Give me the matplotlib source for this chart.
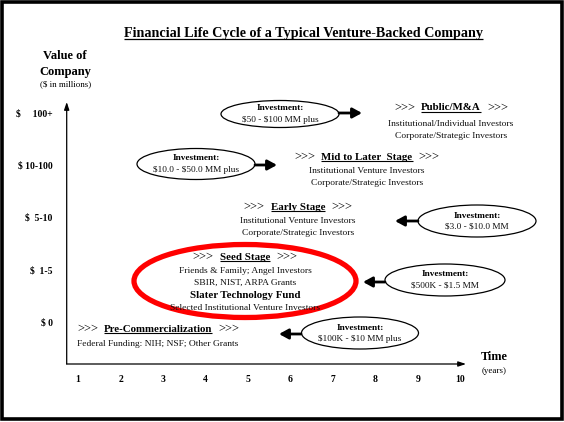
import matplotlib
matplotlib.use("Agg")
import matplotlib.pyplot as plt
from matplotlib.patches import Ellipse, Rectangle

plt.rcParams['font.family'] = ['Liberation Serif', 'DejaVu Serif']

# ---------------- data ----------------
title = "Financial Life Cycle of a Typical Venture-Backed Company"
y_axis_title = ["Value of", "Company"]
y_axis_unit = "($ in millions)"
x_axis_title = "Time"
x_axis_unit = "(years)"
years = [1, 2, 3, 4, 5, 6, 7, 8, 9, 10]
value_levels = [0, 1, 2, 3, 4]
value_labels = ["$ 0", "$  1-5", "$  5-10", "$ 10-100", "$     100+"]
stage_names = ["Pre-Commercialization", "Seed Stage", "Early Stage",
               "Mid to Later  Stage", "Public/M&A"]
stage_investors = [
    ["Federal Funding: NIH; NSF; Other Grants"],
    ["Friends & Family; Angel Investors", "SBIR, NIST, ARPA Grants",
     "Slater Technology Fund", "Selected Institutional Venture Investors"],
    ["Institutional Venture Investors", "Corporate/Strategic Investors"],
    ["Institutional Venture Investors", "Corporate/Strategic Investors"],
    ["Institutional/Individual Investors", "Corporate/Strategic Investors"],
]
highlight_investor = "Slater Technology Fund"
highlight_stage = "Seed Stage"
investment_title = "Investment:"
investment_ranges = ["$100K - $10 MM plus", "$500K - $1.5 MM", "$3.0 - $10.0 MM",
                     "$10.0 - $50.0 MM plus", "$50 - $100 MM plus"]

# ---------------- layout (pixels, top-left origin) ----------------
W, H = 564, 422
AX_L, AX_R, AX_T, AX_B = 66.7, 466.0, 102.0, 364.0
X0, XS = 78.0, 42.5      # pixel of year 1, pixels per year
Y0, YS = 322.0, 52.3     # pixel of level 0, pixels per level

stage_pos = [(77, 329, 'left'), (245, 257, 'center'), (298, 207, 'center'),
             (367, 157, 'center'), (451, 108, 'center')]
stage_first = [15, 14, 14, 14, 16]
stage_step = 12.2
ell_pos = [(360, 333, 117, 32), (445, 280, 120, 32), (477, 221, 118, 32),
           (196, 164, 118, 31), (280, 114, 118, 27)]
arrows = [((301, 334), (279, 334)), ((385, 282), (363, 282)),
          ((418, 221), (395, 221)), ((255, 165), (277, 165)),
          ((339, 113), (362, 113))]
red_ell = (245, 281, 222, 73)

FS_BODY = 6.8
FS_HEAD = 7.8
FS_ARROWS = 9.0
FS_INV = 6.7
FS_TICK = 6.9

fig = plt.figure(figsize=(W / 100, H / 100), dpi=100)
ax = fig.add_axes([AX_L / W, 1 - AX_B / H, (AX_R - AX_L) / W, (AX_B - AX_T) / H])


def dx(px):
    return 1 + (px - X0) / XS


def dy(py):
    return (Y0 - py) / YS


ax.set_xlim(dx(AX_L), dx(AX_R))
ax.set_ylim(dy(AX_B), dy(AX_T))
for s in ax.spines.values():
    s.set_visible(False)
ax.patch.set_alpha(0)

ax.set_xticks(years)
ax.set_xticklabels([str(y) for y in years], fontweight='bold', fontsize=FS_TICK)
ax.set_yticks(value_levels)
ax.set_yticklabels(value_labels, fontweight='bold', fontsize=FS_TICK, parse_math=False)
ax.tick_params(axis='x', length=0, pad=8.0)
ax.tick_params(axis='y', length=0, pad=10)

# axis arrows
ap = dict(arrowstyle='-|>,head_length=0.45,head_width=0.15', lw=0.9,
          color='black', shrinkA=0, shrinkB=0)
ax.annotate('', xy=(0, 1), xytext=(0, 0), xycoords='axes fraction', arrowprops=ap)
ax.annotate('', xy=(1, 0), xytext=(0, 0), xycoords='axes fraction', arrowprops=ap)

fig.canvas.draw()
renderer = fig.canvas.get_renderer()
inv = ax.transData.inverted()


def txt(px, py, s, ha='center', **kw):
    return ax.text(dx(px), dy(py), s, ha=ha, va='center', clip_on=False,
                   parse_math=False, **kw)


def underline(t, lw=0.8, off=0.6):
    bb = t.get_window_extent(renderer)
    (x0, y0) = inv.transform((bb.x0, bb.y0 + off))
    (x1, _) = inv.transform((bb.x1, bb.y0 + off))
    ax.plot([x0, x1], [y0, y0], color='black', lw=lw, clip_on=False,
            solid_capstyle='butt')


# title
t = txt(303, 34, title, fontweight='bold', fontsize=10.2)
underline(t, lw=0.9, off=1.2)

# axis titles
txt(65, 56, y_axis_title[0], fontweight='bold', fontsize=9)
txt(65, 72, y_axis_title[1], fontweight='bold', fontsize=9)
txt(66, 84.5, y_axis_unit, fontsize=6.5)
txt(494, 357, x_axis_title, fontweight='bold', fontsize=8.8)
txt(494, 371, x_axis_unit, fontsize=6.5)

GAP = 6  # px between >>> and stage name

for name, inv_lines, (sx, sy, al), f0 in zip(stage_names, stage_investors,
                                              stage_pos, stage_first):
    if al == 'center':
        mid = txt(sx, sy, name, fontweight='bold', fontsize=FS_HEAD)
        bb = mid.get_window_extent(renderer)
        xl_data = inv.transform((bb.x0 - GAP, 0))[0]
        xr_data = inv.transform((bb.x1 + GAP, 0))[0]
        ax.text(xl_data, dy(sy), '>>>', ha='right', va='center', fontsize=FS_ARROWS,
                clip_on=False)
        ax.text(xr_data, dy(sy), '>>>', ha='left', va='center', fontsize=FS_ARROWS,
                clip_on=False)
        underline(mid)
    else:
        a1 = txt(sx, sy, '>>>', ha='left', fontsize=FS_ARROWS)
        bb = a1.get_window_extent(renderer)
        xm = inv.transform((bb.x1 + GAP, 0))[0]
        mid = ax.text(xm, dy(sy), name, ha='left', va='center', fontweight='bold',
                      fontsize=FS_HEAD, clip_on=False)
        bb2 = mid.get_window_extent(renderer)
        xr = inv.transform((bb2.x1 + GAP, 0))[0]
        ax.text(xr, dy(sy), '>>>', ha='left', va='center', fontsize=FS_ARROWS,
                clip_on=False)
        underline(mid)
    for i, line in enumerate(inv_lines):
        yy = sy + f0 + i * stage_step
        if line == highlight_investor:
            txt(sx, yy, line, ha=al, fontweight='bold', fontsize=FS_HEAD)
        else:
            txt(sx, yy, line, ha=al, fontsize=FS_BODY, color='#111111')

# investment ellipses and arrows
for rng, (ex, ey, ew, eh), (tail, tip) in zip(investment_ranges, ell_pos, arrows):
    ax.add_patch(Ellipse((dx(ex), dy(ey)), ew / XS, eh / YS, fill=False,
                         edgecolor='black', lw=0.9, clip_on=False))
    txt(ex, ey - 5.5, investment_title, fontweight='bold', fontsize=FS_INV)
    txt(ex, ey + 5.8, rng, fontsize=FS_INV, color='#111111')
    ax.annotate('', xy=(dx(tip[0]), dy(tip[1])), xytext=(dx(tail[0]), dy(tail[1])),
                arrowprops=dict(arrowstyle='-|>,head_length=0.55,head_width=0.3',
                                lw=2.0, color='black', shrinkA=0, shrinkB=0,
                                mutation_scale=10),
                annotation_clip=False)

# red highlight around the seed stage
rx, ry, rw, rh = red_ell
ax.add_patch(Ellipse((dx(rx), dy(ry)), rw / XS, rh / YS, fill=False,
                     edgecolor='#ff0000', lw=3.8, clip_on=False))

# outer border
fig.add_artist(Rectangle((1.8 / W, 2.6 / H), 1 - 3.6 / W, 1 - 4.4 / H,
                         transform=fig.transFigure, fill=False,
                         edgecolor='black', lw=2.6))

fig.savefig('out.png', dpi=100)
